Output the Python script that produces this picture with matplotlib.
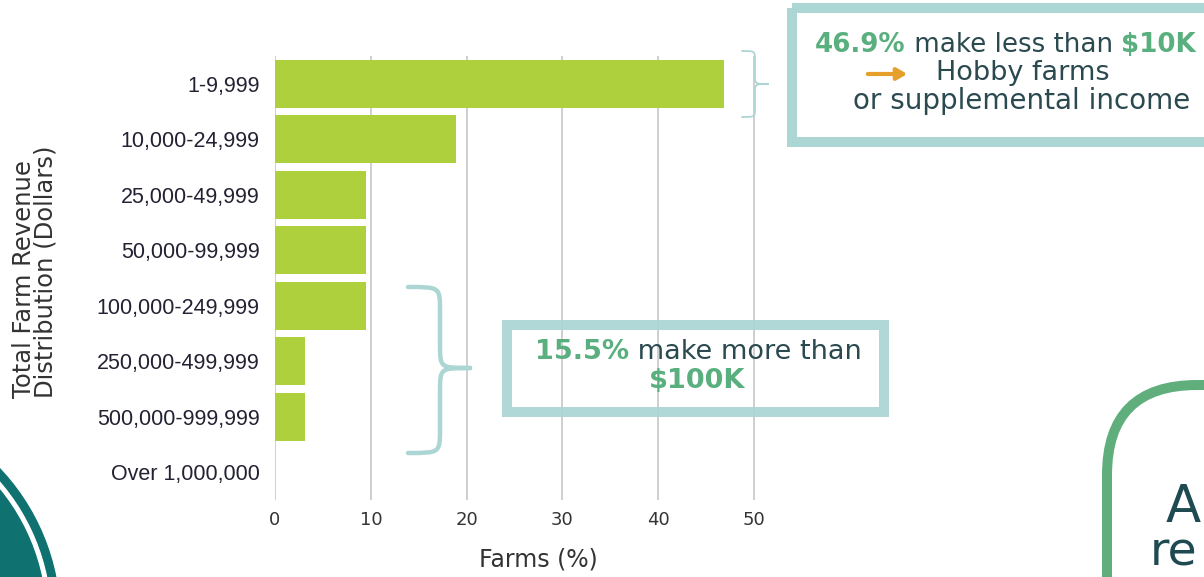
import numpy as np
import matplotlib.pyplot as plt
from matplotlib.patches import Rectangle, Circle, FancyBboxPatch, PathPatch
from matplotlib.path import Path

# data
categories = ['1-9,999', '10,000-24,999', '25,000-49,999', '50,000-99,999',
              '100,000-249,999', '250,000-499,999', '500,000-999,999', 'Over 1,000,000']
farms_pct = [46.9, 18.9, 9.5, 9.5, 9.5, 3.1, 3.1, 0.0]
xticks = [0, 10, 20, 30, 40, 50]

BAR = '#aed03c'
GRID = '#cccccc'
TEAL_BOX = '#acd6d4'
GREEN_TXT = '#5aaf7e'
DARK_TXT = '#2b4a50'
TEAL_DARK = '#107171'

plt.rcParams['font.family'] = 'DejaVu Sans'

W, H = 1204, 577
fig = plt.figure(figsize=(W / 100, H / 100), dpi=100)

# main bar chart
ax = fig.add_axes([275 / W, 1 - 500 / H, 527 / W, 444 / H])
y = np.arange(len(categories))
ax.barh(y, farms_pct, height=0.87, color=BAR, zorder=2)
ax.set_ylim(len(categories) - 0.5, -0.5)
ax.set_xlim(0, 55)
ax.set_xticks(xticks)
ax.set_yticks(y)
ax.set_yticklabels(categories, fontfamily='Liberation Sans', fontsize=15.5, color='#222233')
ax.set_xticklabels([str(t) for t in xticks], fontsize=13, color='#333333')
ax.tick_params(axis='both', length=0)
ax.tick_params(axis='y', pad=11)
ax.tick_params(axis='x', pad=8)
ax.grid(axis='x', color=GRID, linewidth=1.3, zorder=0)
ax.set_axisbelow(True)
for s in ax.spines.values():
    s.set_visible(False)
ax.set_xlabel('Farms (%)', fontsize=17, color='#333333', labelpad=13)

# overlay in pixel coords for annotations
ov = fig.add_axes([0, 0, 1, 1], zorder=3)
ov.set_xlim(0, W)
ov.set_ylim(H, 0)
ov.axis('off')
ov.patch.set_alpha(0)

ov.text(35, 398, 'Total Farm Revenue\nDistribution (Dollars)', rotation=90,
        ha='center', va='bottom', multialignment='left', fontsize=17.5,
        color='#333333', linespacing=0.88)


def brace(x0, xm, xt, y0, ym, y1, r, lw):
    verts = [(x0, y0), (xm, y0), (xm, y0), (xm, y0 + r),
             (xm, ym - r),
             (xm, ym), (xm, ym), (xt, ym),
             (xm, ym), (xm, ym), (xm, ym + r),
             (xm, y1 - r),
             (xm, y1), (xm, y1), (x0, y1)]
    codes = [Path.MOVETO, Path.CURVE4, Path.CURVE4, Path.CURVE4,
             Path.LINETO,
             Path.CURVE4, Path.CURVE4, Path.CURVE4,
             Path.CURVE4, Path.CURVE4, Path.CURVE4,
             Path.LINETO,
             Path.CURVE4, Path.CURVE4, Path.CURVE4]
    ov.add_patch(PathPatch(Path(verts, codes), fill=False, edgecolor=TEAL_BOX,
                           lw=lw, capstyle='round', joinstyle='round'))


brace(742, 755, 768, 51, 84, 117, 9, 1.3)
brace(408, 440, 470, 287, 368, 453, 24, 3.2)

# boxes
ov.add_patch(Rectangle((792, 8), 500, 134, fill=False, edgecolor=TEAL_BOX, lw=7.2))
ov.add_patch(Rectangle((507, 325), 377, 87, fill=False, edgecolor=TEAL_BOX, lw=7.2, alpha=0.95))


def rich_line(x, yc, parts, size):
    prev = None
    for txt, bold, col in parts:
        kw = dict(fontsize=size, color=col, fontweight='bold' if bold else 'normal',
                  ha='left', va='center')
        if prev is None:
            prev = ov.text(x, yc, txt, **kw)
        else:
            prev = ov.annotate(txt, xy=(1, 0.5), xycoords=prev, **kw)
    return prev


rich_line(815, 45, [('46.9%', True, GREEN_TXT), (' make less than ', False, DARK_TXT),
                    ('$10K', True, GREEN_TXT)], 18.8)
ov.annotate('', xy=(910, 74), xytext=(865, 74),
            arrowprops=dict(arrowstyle='-|>,head_length=0.6,head_width=0.35',
                            color='#e5a02b', lw=3))
ov.text(1023, 73, 'Hobby farms', ha='center', va='center', fontsize=19.5, color=DARK_TXT)
ov.text(853, 101, 'or supplemental income', ha='left', va='center', fontsize=20, color=DARK_TXT)

rich_line(535, 352, [('15.5%', True, GREEN_TXT), (' make more than', False, DARK_TXT)], 19.5)
ov.text(697, 381, '$100K', ha='center', va='center', fontsize=19.5, fontweight='bold', color=GREEN_TXT)

# decorations
ov.add_patch(Circle((-160, 620), 220, color=TEAL_DARK))
ov.add_patch(Circle((-160, 620), 211, color='white'))
ov.add_patch(Circle((-160, 620), 206, color=TEAL_DARK))
ov.add_patch(FancyBboxPatch((1107, 385), 300, 400, boxstyle='round,pad=0,rounding_size=90',
                            fill=False, edgecolor='#5fae7c', lw=7.2))
ov.text(1166, 522, 'A', ha='left', va='baseline', fontsize=37, color='#1f4a52')
ov.text(1150, 575, 're', ha='left', va='bottom', fontsize=34, color='#1f4a52')

fig.savefig('out.png', dpi=100)
